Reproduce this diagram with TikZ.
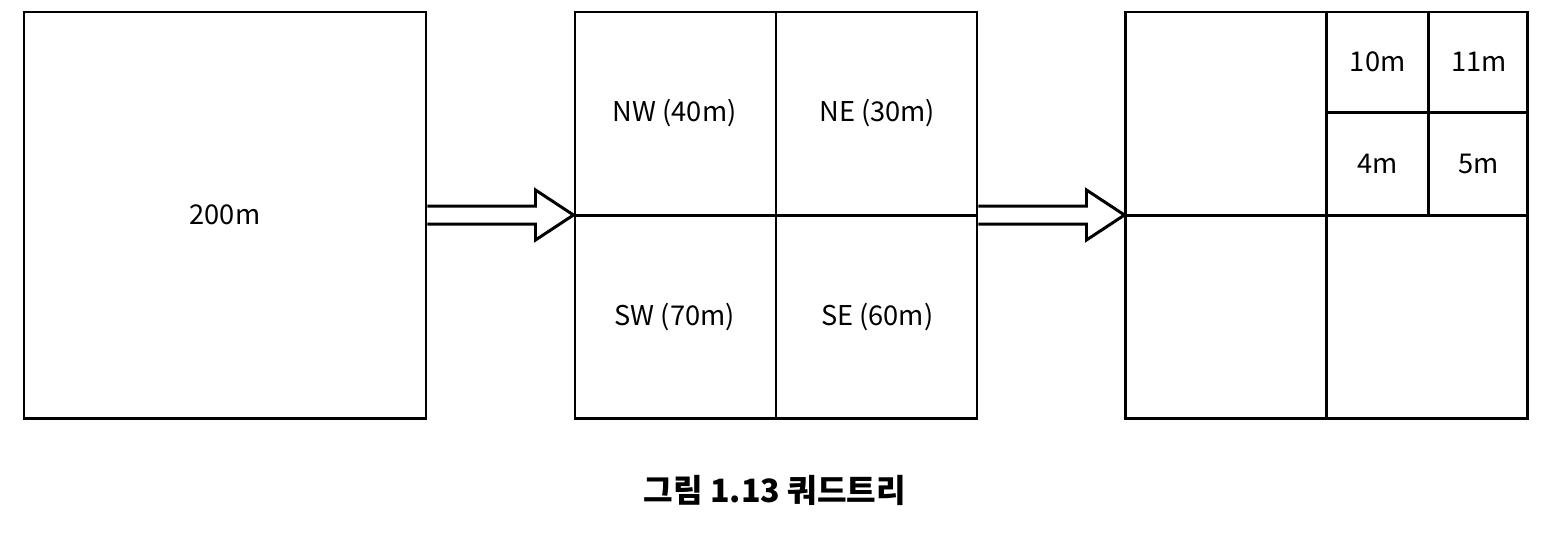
\documentclass[tikz,border=0pt]{standalone}
\usepackage{fontspec}
\setmainfont{Noto Sans CJK KR}
\usetikzlibrary{
    calc,
    positioning
}
\tikzset{
    area/.style={draw, minimum width=8.04cm, minimum height=8.12cm},
    lbl/.style={font=\fontsize{15.5}{18}\selectfont},
    fatarrow/.style={draw, fill=white, line join=miter},
}

\begin{document}
\begin{tikzpicture}[line width=1.7pt, node distance=2.92cm]
   \useasboundingbox (0,0) rectangle (31,-10.7);
   % the three stages
   \node[area] (big) at (4.5,-4.3) {};
   \node[area] (mid) [right=of big] {};
   \node[area] (last) [right=of mid] {};
   \node[lbl] (b0) at (big.center) {200m};
   % first split
   \draw (mid.north) -- (mid.south);
   \draw (mid.west) -- (mid.east);
   \node[lbl] (nw) at ($(mid.center)!0.5!(mid.north west)$) {NW (40m)};
   \node[lbl] (ne) at ($(mid.center)!0.5!(mid.north east)$) {NE (30m)};
   \node[lbl] (sw) at ($(mid.center)!0.5!(mid.south west)$) {SW (70m)};
   \node[lbl] (se) at ($(mid.center)!0.5!(mid.south east)$) {SE (60m)};
   % second split, NE again
   \draw (last.north) -- (last.south);
   \draw (last.west) -- (last.east);
   \coordinate (q) at ($(last.center)!0.5!(last.north east)$);
   \draw ($(last.north)!0.5!(last.north east)$) -- ($(last.center)!0.5!(last.east)$);
   \draw ($(last.center)!0.5!(last.north)$) -- ($(last.east)!0.5!(last.north east)$);
   \node[lbl] (q1) at ($(q)!0.5!(last.north)$) {10m};
   \node[lbl] (q2) at ($(q)!0.5!(last.north east)$) {11m};
   \node[lbl] (q3) at ($(q)!0.5!(last.center)$) {4m};
   \node[lbl] (q4) at ($(q)!0.5!(last.east)$) {5m};
   % hollow arrows
   \foreach \a/\b in {big/mid, mid/last}
    \draw[fatarrow] ($(\a.east)+(0,0.18)$) -- ($(\b.west)+(-0.76,0.18)$)
      -- ($(\b.west)+(-0.76,0.5)$) -- (\b.west) -- ($(\b.west)+(-0.76,-0.5)$)
      -- ($(\b.west)+(-0.76,-0.18)$) -- ($(\a.east)+(0,-0.18)$);
   \node[font=\fontsize{18.3}{22}\selectfont\bfseries] (cap) at (15.5,-9.8) {그림 1.13 쿼드트리};
\end{tikzpicture}
\end{document}
